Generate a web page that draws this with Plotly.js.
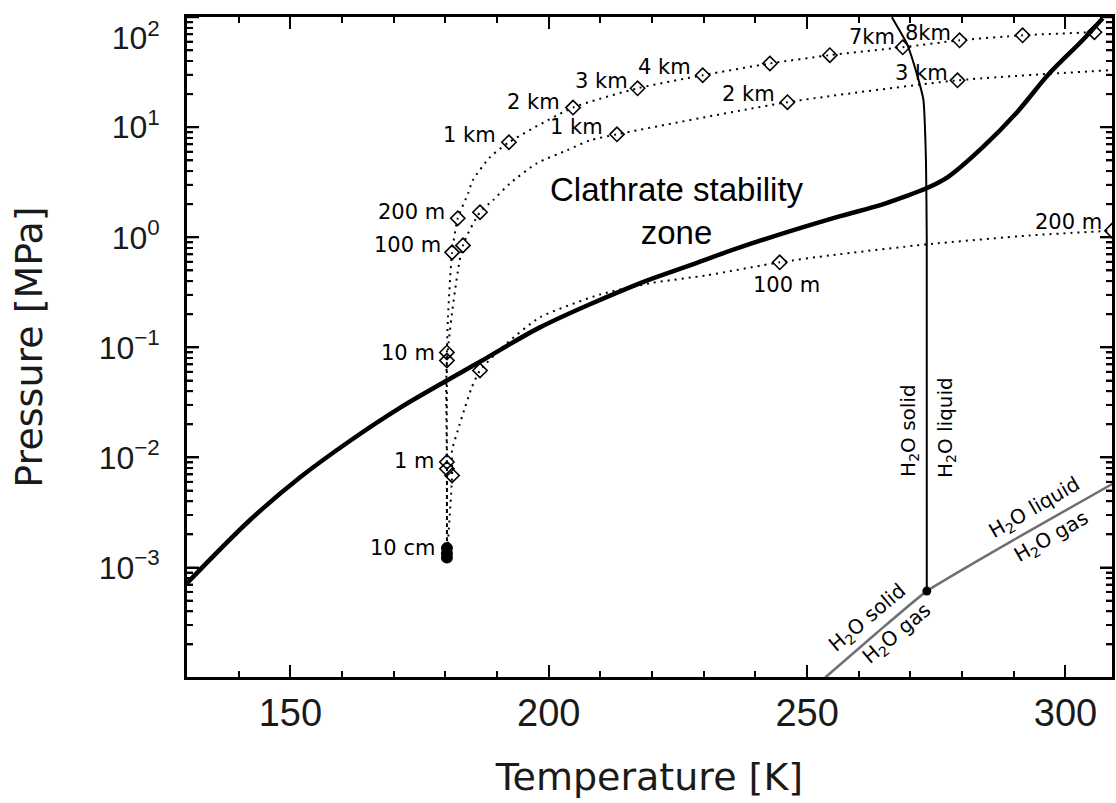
<!DOCTYPE html>
<html><head><meta charset="utf-8">
<script src="https://cdn.plot.ly/plotly-3.0.1.min.js"></script>
<style>html,body{margin:0;padding:0;background:#fff}#chart{width:1116px;height:803px}</style>
</head><body><div id="chart"></div>
<script>
// ---- Clathrate stability boundary (thick black) ----
const clathT = [130.0,142.2,151.9,161.5,171.2,180.3,187.3,198.3,217.6,227.3,237.0,255.4,264.0,268.5,273.1,277.3,284.0,290.5,296.9,303.3,307.2];
const clathP = [7.2e-4,2.7e-3,6.6e-3,0.0141,0.0282,0.050,0.0769,0.152,0.382,0.556,0.811,1.51,1.95,2.31,2.79,3.55,6.6,13.5,30.9,61.7,97.7];

// ---- H2O solid/liquid boundary (thin black) ----
const meltT = [273.16,273.15,273.0,272.5,271.2,269.3,266.4];
const meltP = [6.1e-4,1.0,5.0,17.8,30.9,57.5,100];

// ---- H2O gas boundary (grey) ----
const gasT = [253.5,263.5,273.16,291.0,309.5];
const gasP = [1.0e-4,2.55e-4,6.1e-4,1.9e-3,5.9e-3];

// ---- triple point ----
const tripleT = [273.16];
const tripleP = [6.1e-4];

// ---- depth profiles: dotted lines ----
const profATempLine = [180.3,180.3,180.3,180.5,181.3,182.4,184.4,185.3,188.6,192.3,204.7,217.2,229.8,242.8,254.4,268.5,279.5,291.7,305.6];
const profAPresLine = [1.5e-3,9.1e-3,0.090,0.187,0.73,1.49,2.51,3.30,5.33,7.31,15.1,22.6,29.7,38.0,45.2,53.3,61.7,68.5,73.1];

const profBTempLine = [180.3,180.3,180.3,183.4,186.7,189.2,192.5,197.7,203.5,207.9,213.2,246.2,279.1,309.0];
const profBPresLine = [1.35e-3,7.9e-3,0.076,0.845,1.69,2.17,3.09,4.71,6.17,7.59,8.63,16.9,26.7,33.1];

const profCTempLine = [180.3,181.3,181.3,182.4,183.8,185.1,186.7,191.5,198.3,209.9,219.5,230.6,244.7,254.4,273.1,293.1,309.0];
const profCPresLine = [1.23e-3,6.86e-3,0.0116,0.0176,0.0285,0.0433,0.0617,0.105,0.1875,0.302,0.382,0.452,0.593,0.685,0.863,1.04,1.15];

// ---- depth markers (open diamonds) ----
const profAMarkT = [180.3,180.3,181.3,182.4,192.3,204.7,217.2,229.8,242.8,254.4,268.5,279.5,291.7,305.6];
const profAMarkP = [9.1e-3,0.090,0.73,1.49,7.31,15.1,22.6,29.7,38.0,45.2,53.3,61.7,68.5,73.1];
const profBMarkT = [180.3,180.3,183.4,186.7,213.2,246.2,279.1];
const profBMarkP = [7.9e-3,0.076,0.845,1.69,8.63,16.9,26.7];
const profCMarkT = [181.3,186.7,244.7,309.0];
const profCMarkP = [6.86e-3,0.0617,0.593,1.15];
// 10 cm depth (filled)
const surfT = [180.3,180.3,180.3];
const surfP = [1.5e-3,1.35e-3,1.23e-3];

// ---- axis ticks ----
const xTickVals = [150,200,250,300];
const yTickVals = [1e-3,1e-2,1e-1,1,10,100];
const pad = '\u00a0\u00a0';
const yTickText = ['10<sup>\u22123</sup>'+pad,'10<sup>\u22122</sup>'+pad,'10<sup>\u22121</sup>'+pad,'10<sup>0</sup>'+pad,'10<sup>1</sup>'+pad,'<br>10<sup>2</sup>'+pad];
const yDecades = [-4,-3,-2,-1,0,1];
const yMinorDigits = [2,3,4,5,6,7,8,9];
const yMinorVals = [];
yDecades.forEach(function(d){ yMinorDigits.forEach(function(m){ yMinorVals.push(m*Math.pow(10,d)); }); });

const dotLine = {color:'#000', width:2, dash:'2px,5px', shape:'spline', smoothing:0.6};
const traces = [
  {x:profATempLine, y:profAPresLine, mode:'lines', line:dotLine, hoverinfo:'skip'},
  {x:profBTempLine, y:profBPresLine, mode:'lines', line:dotLine, hoverinfo:'skip'},
  {x:profCTempLine, y:profCPresLine, mode:'lines', line:dotLine, hoverinfo:'skip'},
  {x:clathT, y:clathP, mode:'lines', line:{color:'#000', width:4.5, shape:'spline', smoothing:0.9}},
  {x:meltT, y:meltP, mode:'lines', line:{color:'#000', width:2, shape:'spline', smoothing:0.4}},
  {x:gasT, y:gasP, mode:'lines', line:{color:'#707070', width:2.5, shape:'spline', smoothing:0.4}},
  {x:tripleT, y:tripleP, mode:'markers', marker:{symbol:'circle', size:9, color:'#000'}},
  {x:profAMarkT, y:profAMarkP, mode:'markers', marker:{symbol:'diamond-open', size:11, color:'#000', line:{width:1.6, color:'#000'}}},
  {x:profBMarkT, y:profBMarkP, mode:'markers', marker:{symbol:'diamond-open', size:11, color:'#000', line:{width:1.6, color:'#000'}}},
  {x:profCMarkT, y:profCMarkP, mode:'markers', marker:{symbol:'diamond-open', size:11, color:'#000', line:{width:1.6, color:'#000'}}},
  {x:surfT, y:surfP, mode:'markers', marker:{symbol:'circle', size:12, color:'#000'}}
];

const smallFont = {family:'DejaVu Sans', size:21, color:'#000'};
const h2oFont = {family:'DejaVu Sans', size:20, color:'#000'};
function lab(text, x, y, xanchor, extra) {
  return Object.assign({text:text, x:x, y:y, xref:'x', yref:'y', showarrow:false,
    xanchor:xanchor||'right', yanchor:'middle', font:smallFont}, extra||{});
}
const annotations = [
  lab('1 km', 190.2, 0.927), lab('2 km', 202.5, 1.227), lab('3 km', 215.7, 1.418), lab('4 km', 227.9, 1.545),
  lab('7km', 267.3, 1.818), lab('8km', 278.2, 1.855),
  lab('1 km', 210.9, 1.0), lab('2 km', 244.1, 1.3), lab('3 km', 277.6, 1.49),
  lab('200 m', 180.3, 0.227), lab('100 m', 179.5, -0.073),
  lab('10 m', 178.4, -1.055), lab('1 m', 178.4, -2.036), lab('10 cm', 178.4, -2.827),
  lab('100 m', 246.1, -0.436, 'center'), lab('200 m', 307.4, 0.136),
  lab('Clathrate stability<br>zone', 224.8, 0.236, 'center', {font:{family:'Liberation Sans', size:33, color:'#000'}}),
  lab('H<sub>2</sub>O solid', 269.8, -1.755, 'center', {textangle:-90, font:h2oFont}),
  lab('H<sub>2</sub>O liquid', 277.0, -1.727, 'center', {textangle:-90, font:h2oFont}),
  lab('H<sub>2</sub>O liquid', 294.0, -2.455, 'center', {textangle:-30, font:h2oFont}),
  lab('H<sub>2</sub>O gas', 297.3, -2.727, 'center', {textangle:-30, font:h2oFont}),
  lab('H<sub>2</sub>O solid', 261.7, -3.455, 'center', {textangle:-40, font:h2oFont}),
  lab('H<sub>2</sub>O gas', 267.3, -3.6, 'center', {textangle:-40, font:h2oFont})
];

// y-axis tick marks (left and mirrored right) as pixel-sized shapes at the axis' own data values
const tickShapes = [];
function addYTick(v, len) {
  [[0, 1], [1, -1]].forEach(function(s){
    tickShapes.push({type:'line', xref:'paper', xsizemode:'pixel', xanchor:s[0], x0:0, x1:s[1]*len,
      yref:'y', y0:v, y1:v, line:{color:'#000', width:2}, layer:'above'});
  });
}
yTickVals.forEach(function(v){ addYTick(v, 12); });
yMinorVals.forEach(function(v){ addYTick(v, 6); });

const axisCommon = {showline:true, linewidth:3, linecolor:'#000', mirror:'ticks', ticks:'inside',
  ticklen:12, tickwidth:2, tickcolor:'#000', showgrid:false, zeroline:false};

const layout = {
  width:1116, height:803,
  margin:{l:187, r:4, t:17, b:126},
  paper_bgcolor:'#fff', plot_bgcolor:'#fff',
  showlegend:false,
  xaxis: Object.assign({}, axisCommon, {
    range:[130,309], tickmode:'array', tickvals:xTickVals,
    minor:{ticks:'inside', ticklen:6, tickwidth:2, tickcolor:'#000', dtick:10, tick0:0, showgrid:false},
    tickfont:{family:'Liberation Sans', size:38, color:'#1a1a1a'},
    title:{text:'Temperature [K]', font:{family:'DejaVu Sans', size:38, color:'#1a1a1a'}, standoff:31}
  }),
  yaxis: Object.assign({}, axisCommon, {
    type:'log', range:[-3.995,2.002], tickmode:'array', tickvals:yTickVals, ticktext:yTickText,
    ticklabeloverflow:'allow',
    minor:{ticks:'inside', ticklen:6, tickwidth:2, tickcolor:'#000', dtick:'D1', showgrid:false},
    tickfont:{family:'Liberation Sans', size:32, color:'#1a1a1a'},
    title:{text:'Pressure [MPa]', font:{family:'DejaVu Sans', size:38, color:'#1a1a1a'}, standoff:45}
  }),
  shapes: tickShapes,
  annotations: annotations
};

Plotly.newPlot('chart', traces, layout, {displayModeBar:false, staticPlot:true});
</script>
</body></html>
